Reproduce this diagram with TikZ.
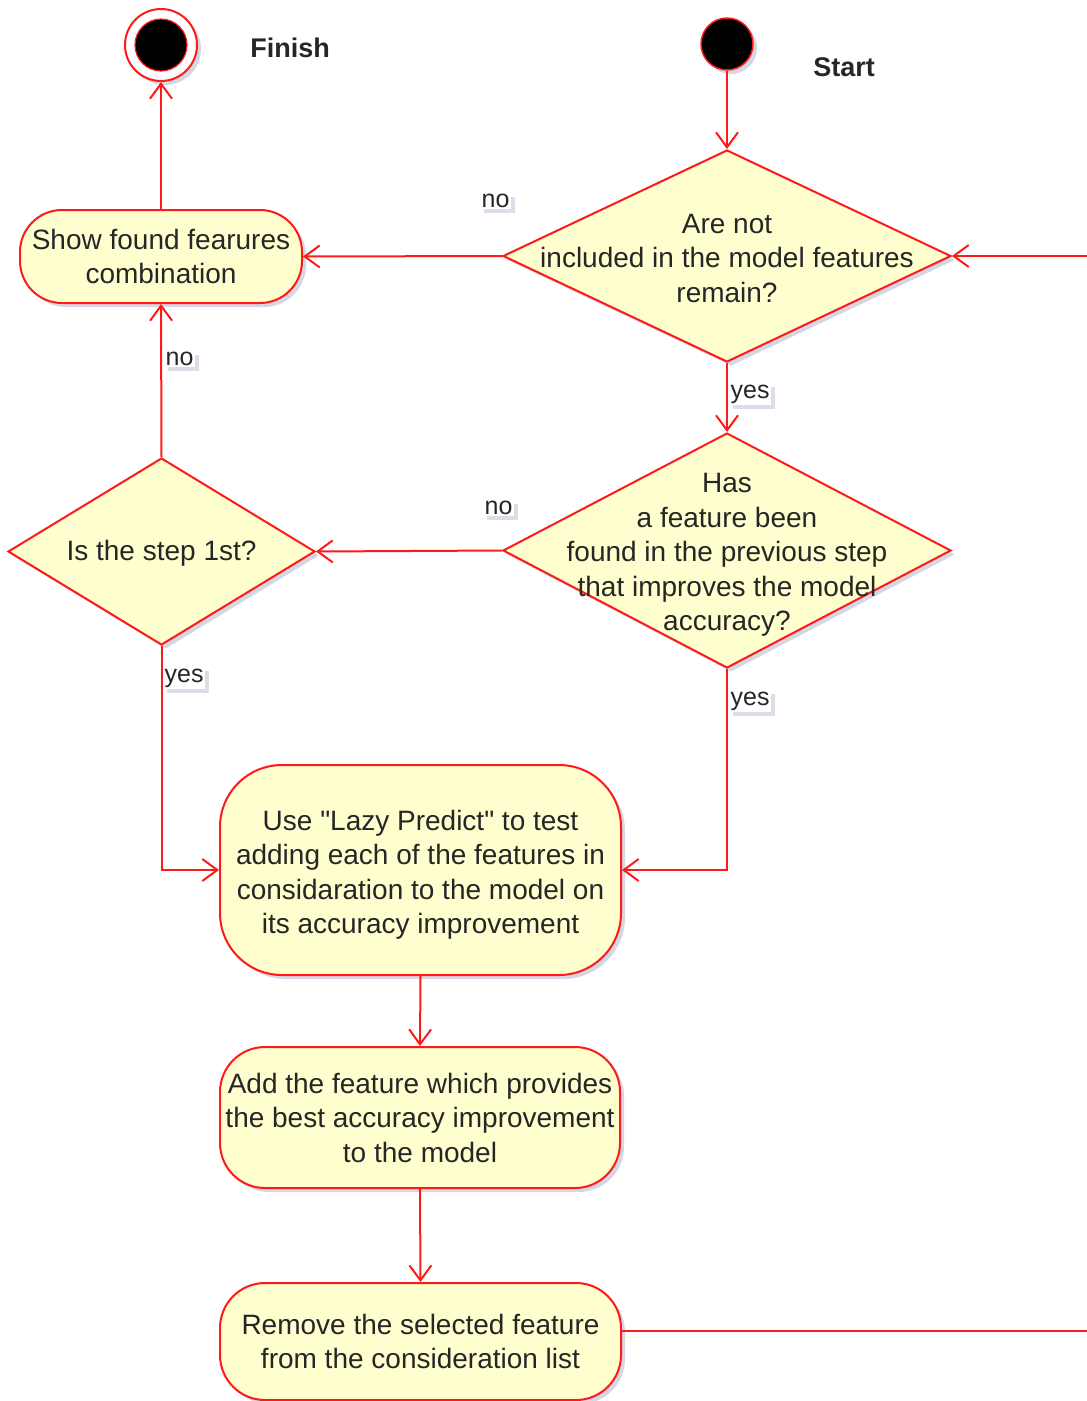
\documentclass[tikz,border=0pt]{standalone}
\usepackage{fontspec}
\setmainfont{Liberation Sans}
\newfontfamily\umlfont{Liberation Sans}
\usetikzlibrary{arrows.meta,shapes.geometric,shadows}
\definecolor{umlfill}{HTML}{FEFECE}
\definecolor{umlred}{HTML}{FF1A1A}
\definecolor{umltext}{HTML}{262626}
\definecolor{shadowc}{HTML}{C4C6D8}
\tikzset{
  umlshadow/.style={drop shadow={shadow xshift=4pt,shadow yshift=-4pt,fill=shadowc,opacity=0.7}},
  actbox/.style={draw=umlred,fill=umlfill,line width=2pt,umlshadow,
    align=center,text=umltext,font=\umlfont\fontsize{28}{34.5}\selectfont,inner sep=0pt},
  decbox/.style={diamond,draw=umlred,fill=umlfill,line width=2pt,umlshadow,inner sep=0pt},
  dectext/.style={align=center,text=umltext,font=\umlfont\fontsize{28}{34.5}\selectfont,inner sep=0pt},
  flow/.style={draw=umlred,line width=2pt,-{Straight Barb[length=15pt,width=22pt,line width=2pt]}},
  lbl/.style={fill=white,text=umltext,font=\umlfont\fontsize{25}{28}\selectfont,inner sep=1.5pt,
    drop shadow={shadow xshift=4pt,shadow yshift=-4pt,fill=shadowc,opacity=0.6}},
  title/.style={text=umltext,font=\umlfont\bfseries\fontsize{27}{30}\selectfont,inner sep=0pt},
}
\begin{document}
\begin{tikzpicture}[x=1pt,y=-1pt]
\useasboundingbox (0,0) rectangle (1087,1401);
\clip (0,0) rectangle (1087,1401);

% start and finish
\node[circle,fill=black,draw=umlred,line width=1.5pt,minimum size=52pt,inner sep=0pt,umlshadow] (start) at (727,44) {};
\node[title] (starttxt) at (844,67) {Start};
\node[circle,fill=white,draw=umlred,line width=2pt,minimum size=72pt,inner sep=0pt,umlshadow] (finish) at (161,45) {};
\node[circle,fill=black,draw=umlred,line width=1.2pt,minimum size=52pt,inner sep=0pt] (finishin) at (161,45) {};
\node[title] (finishtxt) at (290,48) {Finish};

% decisions
\node[decbox,minimum width=448pt,minimum height=212pt] (d1) at (727,256) {};
\node[dectext] (d1t) at (727,258) {Are not\\included in the model features\\remain?};
\node[decbox,minimum width=448pt,minimum height=235pt] (d2) at (727,550.5) {};
\node[dectext] (d2t) at (727,555) {Has\\a feature been\\found in the previous step\\that improves the model\\accuracy?};
\node[decbox,minimum width=307pt,minimum height=187pt] (d3) at (161.5,551.5) {};
\node[dectext] (d3t) at (161.5,553) {Is the step 1st?};

% activities
\node[actbox,rounded corners=42pt,minimum width=282pt,minimum height=93pt] (show) at (161,256.5) {Show found fearures\\combination};
\node[actbox,rounded corners=62pt,minimum width=401pt,minimum height=210pt] (use) at (420.5,870) {\rule{0pt}{30pt}Use "Lazy Predict" to test\\adding each of the features in\\considaration to the model on\\its accuracy improvement};
\node[actbox,rounded corners=45pt,minimum width=400pt,minimum height=141pt] (add) at (420,1117.5) {Add the feature which provides\\the best accuracy improvement\\to the model};
\node[actbox,rounded corners=45pt,minimum width=401pt,minimum height=117pt] (remove) at (420.5,1341.5) {Remove the selected feature\\from the consideration list};

% connectors
\draw[flow] (start) -- (d1.north);
\draw[flow] (d1.west) -- (show.east);
\draw[flow] (d1.south) -- (d2.north);
\draw[flow] (d2.west) -- (d3.east);
\draw[flow] (d3.north) -- (show.south);
\draw[flow] (show.north) -- (finish.south);
\draw[flow] (d3.south) |- (use.west);
\draw[flow] (d2.south) |- (use.east);
\draw[flow] (use.south) -- (add.north);
\draw[flow] (add.south) -- (remove.north);
\coordinate (loop) at (1110,1331);
\draw[flow] (remove.east |- loop) -- (loop) |- (d1.east);

% labels
\node[lbl,anchor=west] (lno1) at (480,201) {no};
\node[lbl,anchor=west] (lyes1) at (729,394) {yes};
\node[lbl,anchor=west] (lno2) at (483,508) {no};
\node[lbl,anchor=west] (lno3) at (164,359) {no};
\node[lbl,anchor=west] (lyes2) at (163,678) {yes};
\node[lbl,anchor=west] (lyes3) at (729,701) {yes};
\end{tikzpicture}
\end{document}
